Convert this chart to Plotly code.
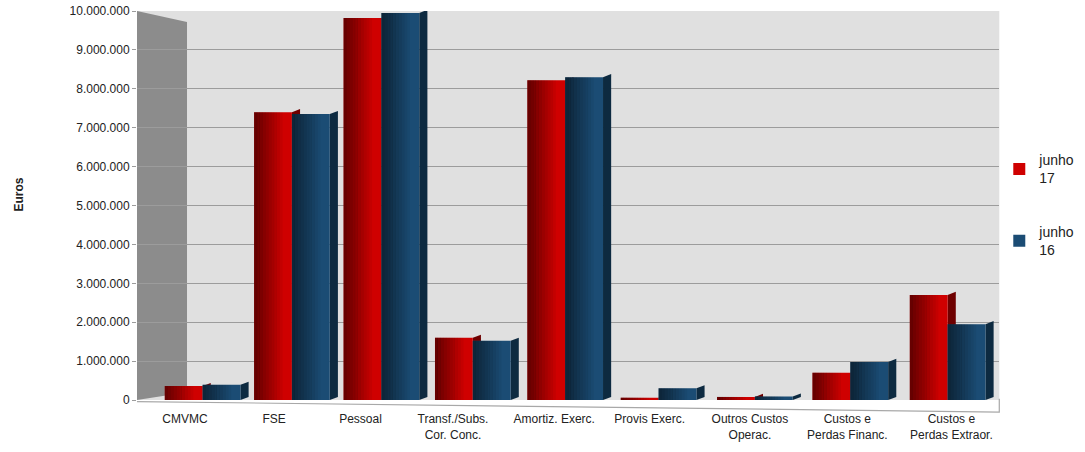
import plotly.graph_objects as go

# Categories and cost values (euros) for the two periods
categorias = [
    "CMVMC",
    "FSE",
    "Pessoal",
    "Transf./Subs.<br>Cor. Conc.",
    "Amortiz. Exerc.",
    "Provis Exerc.",
    "Outros Custos<br>Operac.",
    "Custos e<br>Perdas Financ.",
    "Custos e<br>Perdas Extraor.",
]
junho_17 = [360000, 7400000, 9820000, 1600000, 8220000, 60000, 80000, 700000, 2700000]
junho_16 = [390000, 7350000, 9950000, 1520000, 8300000, 300000, 90000, 980000, 1950000]

tick_vals = [0, 1000000, 2000000, 3000000, 4000000, 5000000, 6000000, 7000000, 8000000, 9000000, 10000000]

# --- styling -------------------------------------------------------------
COR_17 = "#cf0000"
COR_16 = "#1b4c74"
LADO_17 = "#6e0000"
LADO_16 = "#0d2a40"
BAR_W = 0.395          # width of each bar (category units)
LADO_W = 0.085         # depth of the side face
LADO_DY = 80000        # rise of the side face's far edge
# perspective shift of each bar pair and of each category label
desvio_barras = [0.185, 0.117, 0.051, 0.005, -0.031, -0.056, -0.051, -0.055, -0.039]
desvio_rotulos = [0.0, -0.069, -0.167, -0.202, -0.145, -0.149, -0.103, -0.086, 0.0]

pos = list(range(len(categorias)))

fig = go.Figure()
fig.add_trace(go.Bar(
    x=pos, y=junho_17, name="junho<br>17",
    width=BAR_W, offset=[d - BAR_W for d in desvio_barras],
    marker=dict(color=COR_17, line=dict(width=0)), legend="legend",
))
fig.add_trace(go.Bar(
    x=pos, y=junho_16, name="junho<br>16",
    width=BAR_W, offset=desvio_barras,
    marker=dict(color=COR_16, line=dict(width=0)), legend="legend2",
))

shapes = []

# Floor edge under the bars
shapes.append(dict(type="path", xref="paper", yref="paper",
                   path="M 0 -0.004 L 1 -0.031 L 1 0.003",
                   line=dict(color="#a8a8a8", width=1.2), layer="between"))

N_FAIXAS = 10
for i, (v17, v16) in enumerate(zip(junho_17, junho_16)):
    x_ini = i + desvio_barras[i] - BAR_W
    x_mid = i + desvio_barras[i]
    x_fim = x_mid + BAR_W
    # side faces (drawn behind the bar traces)
    for xr, v, cor in ((x_mid, v17, LADO_17), (x_fim, v16, LADO_16)):
        shapes.append(dict(
            type="path", xref="x", yref="y",
            path=f"M {xr} 0 L {xr} {v} L {xr + LADO_W} {v + LADO_DY} L {xr + LADO_W} {LADO_DY} Z",
            fillcolor=cor, line=dict(width=0), layer="between"))
    # dark-to-light shading across each front face
    for x0, v in ((x_ini, v17), (x_mid, v16)):
        passo = BAR_W * 0.75 / N_FAIXAS
        for k in range(N_FAIXAS):
            alfa = 0.5 * (1 - k / N_FAIXAS)
            shapes.append(dict(type="rect", xref="x", yref="y",
                               x0=x0 + k * passo, x1=x0 + (k + 1) * passo + 0.002,
                               y0=0, y1=v, fillcolor=f"rgba(0,0,0,{alfa:.3f})",
                               line=dict(width=0), layer="above"))

# Left side wall of the chart box
shapes.append(dict(type="path", xref="paper", yref="paper",
                   path="M 0 1 L 0.058 0.972 L 0.058 0.02 L 0 0 Z",
                   fillcolor="#8c8c8c", line=dict(width=0), layer="between"))

# Legends are placed in container coordinates so they sit in the right margin
legenda = dict(xref="container", yref="container", xanchor="left", yanchor="top",
               font=dict(size=14, color="#222"), bgcolor="rgba(0,0,0,0)", itemwidth=30)

fig.update_layout(
    width=1085, height=452,
    margin=dict(l=137, r=82, t=11, b=52),
    paper_bgcolor="white",
    plot_bgcolor="#e0e0e0",
    separators=",.",
    barmode="group",
    font=dict(family="Liberation Sans, Arial, sans-serif", size=12, color="#222"),
    shapes=shapes,
    showlegend=True,
    xaxis=dict(
        range=[-0.5, 8.5],
        tickvals=[p + d for p, d in zip(pos, desvio_rotulos)],
        ticktext=categorias,
        tickfont=dict(size=12, color="#222"),
        showgrid=False, zeroline=False, showline=False, ticks="",
        ticklabelstandoff=10, automargin=False,
    ),
    yaxis=dict(
        range=[0, 10000000],
        tickvals=tick_vals,
        tickformat=",d",
        tickfont=dict(size=12, color="#222"),
        showgrid=True, gridcolor="#9c9c9c", gridwidth=1,
        zeroline=False, showline=False,
        ticks="outside", ticklen=4, tickcolor="#9c9c9c",
        automargin=False,
    ),
    legend=dict(x=0.921, y=0.681, **legenda),
    legend2=dict(x=0.921, y=0.522, **legenda),
    annotations=[dict(
        text="<b>Euros</b>", xref="paper", yref="paper", x=-0.137, y=0.528,
        xanchor="center", yanchor="middle",
        textangle=-90, showarrow=False, font=dict(size=12, color="#222"),
    )],
)

fig.write_html("out.html")
